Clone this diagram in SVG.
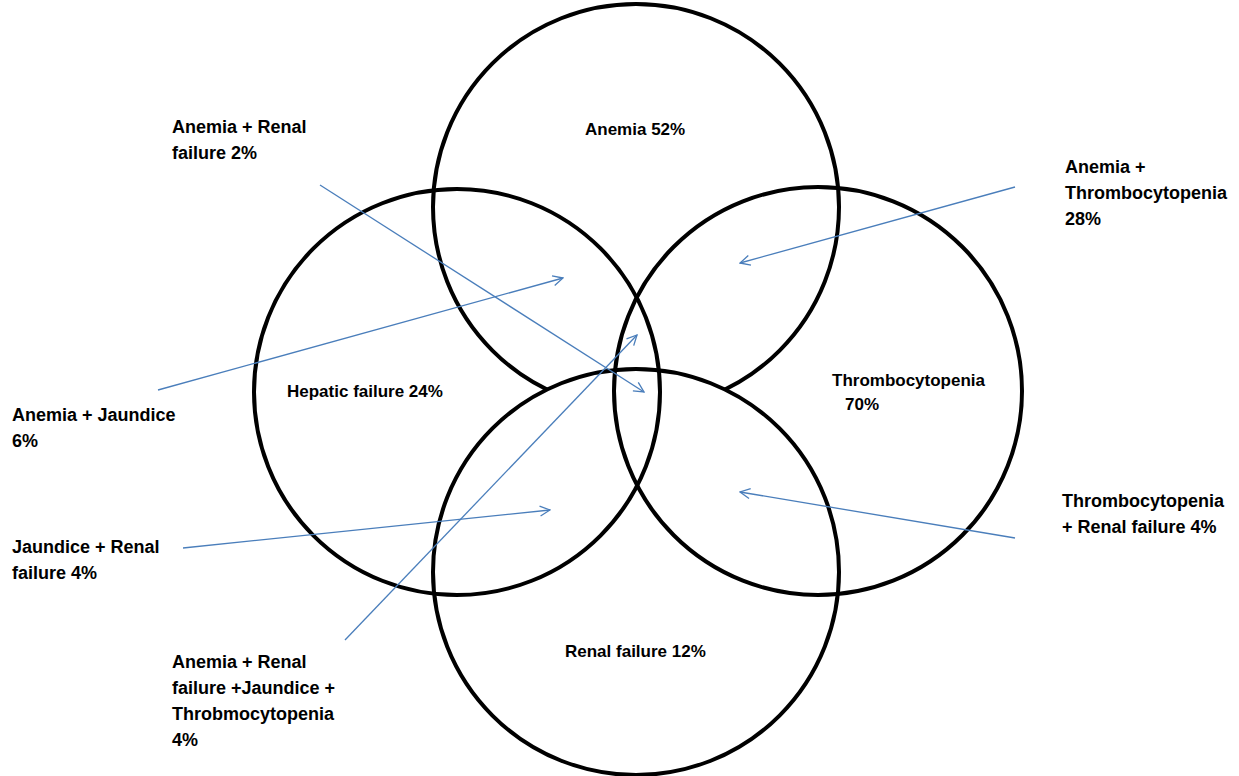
<svg xmlns="http://www.w3.org/2000/svg" width="1239" height="776" viewBox="0 0 1239 776">
<style>
.c{fill:none;stroke:#000;stroke-width:4}
.cw{fill:#fff;stroke:#000;stroke-width:4}
.t{font-family:"Liberation Sans",Arial,sans-serif;font-weight:bold;font-size:17px;fill:#000}
.o{font-size:18px}
.a{stroke:#4a7ebb;stroke-width:1.3;fill:none;marker-end:url(#ah)}
</style>
<defs>
<marker id="ah" viewBox="0 0 12 12" refX="11" refY="6" markerWidth="12" markerHeight="12" markerUnits="userSpaceOnUse" orient="auto">
<path d="M1,1 L11,6 L1,11" fill="none" stroke="#4a7ebb" stroke-width="1.3"/>
</marker>
</defs>
<rect width="1239" height="776" fill="#fff"/>
<g id="anemia"><circle class="c" cx="636" cy="207" r="203"/><text class="t" x="585" y="135">Anemia 52%</text></g>
<g id="renal"><circle class="cw" cx="636" cy="572" r="203"/><text class="t" x="565" y="657">Renal failure 12%</text></g>
<g id="hepatic"><circle class="c" cx="457" cy="392" r="203"/><text class="t" x="287" y="397">Hepatic failure 24%</text></g>
<g id="thrombo"><circle class="c" cx="818" cy="391" r="204"/><text class="t" x="832" y="386">Thrombocytopenia</text><text class="t" x="862" y="410" text-anchor="middle">70%</text></g>
<g id="connectors">
<line class="a" x1="320" y1="185" x2="644" y2="392"/>
<line class="a" x1="158" y1="390" x2="563" y2="278"/>
<line class="a" x1="1015" y1="187" x2="740" y2="263"/>
<line class="a" x1="183" y1="548" x2="550" y2="510"/>
<line class="a" x1="1015" y1="538" x2="740" y2="492"/>
<line class="a" x1="345" y1="640" x2="637" y2="335"/>
</g>
<g id="lbl-ar"><text class="t o" x="172" y="133">Anemia + Renal</text><text class="t o" x="172" y="159">failure 2%</text></g>
<g id="lbl-at"><text class="t o" x="1065" y="173">Anemia +</text><text class="t o" x="1065" y="199">Thrombocytopenia</text><text class="t o" x="1065" y="225">28%</text></g>
<g id="lbl-aj"><text class="t o" x="12" y="421">Anemia + Jaundice</text><text class="t o" x="12" y="447">6%</text></g>
<g id="lbl-jr"><text class="t o" x="12" y="553">Jaundice + Renal</text><text class="t o" x="12" y="579">failure 4%</text></g>
<g id="lbl-all"><text class="t o" x="172" y="668">Anemia + Renal</text><text class="t o" x="172" y="694">failure +Jaundice +</text><text class="t o" x="172" y="720">Throbmocytopenia</text><text class="t o" x="172" y="746">4%</text></g>
<g id="lbl-tr"><text class="t o" x="1062" y="507">Thrombocytopenia</text><text class="t o" x="1062" y="533">+ Renal failure 4%</text></g>
</svg>
